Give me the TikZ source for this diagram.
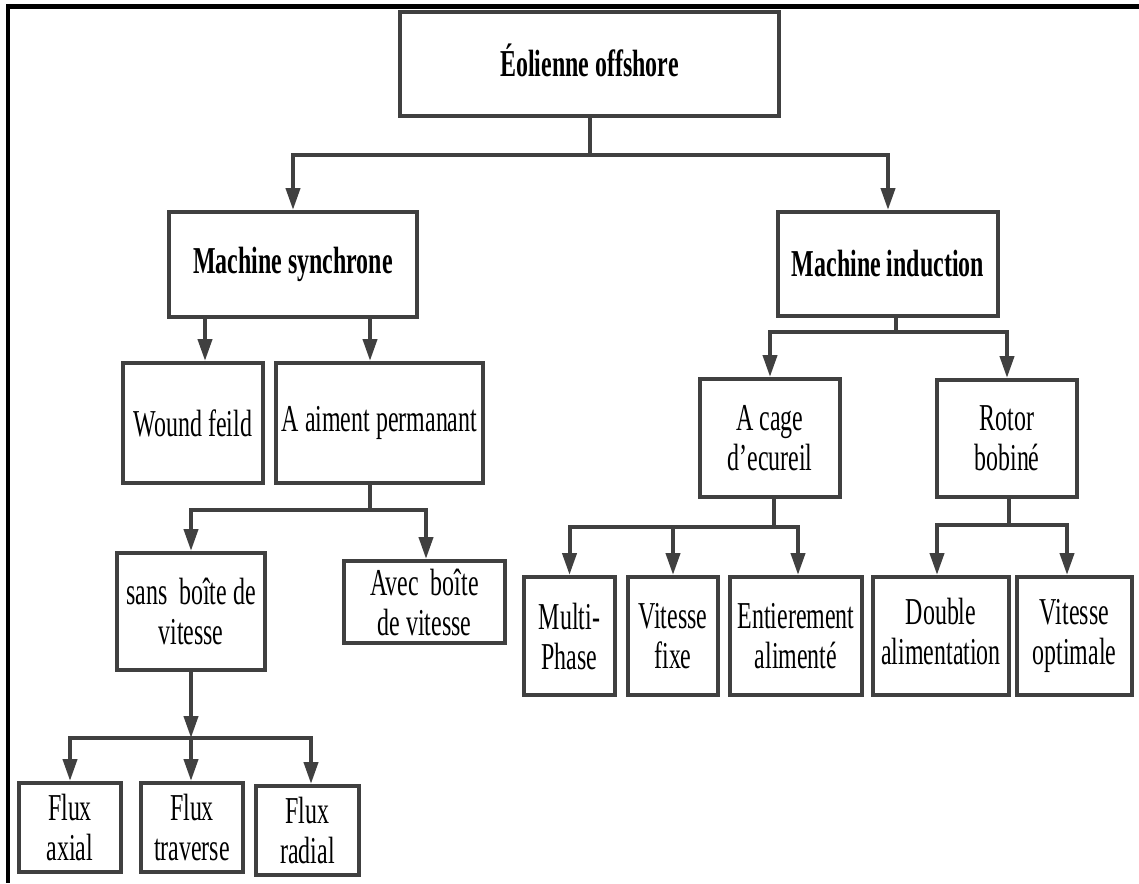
\documentclass[tikz,border=0pt]{standalone}
\usepackage{fontspec}
\setmainfont[FakeStretch=0.63]{Liberation Serif}
\usetikzlibrary{arrows.meta}
\definecolor{edge}{HTML}{404040}
\tikzset{
  box/.style={draw=edge, line width=4pt, fill=white, inner sep=0pt, align=center,
    font=\fontsize{38}{40}\selectfont},
  bbox/.style={box, font=\fontsize{38}{40}\selectfont\bfseries},
  link/.style={draw=edge, line width=4pt},
  arr/.style={link, -{Triangle[length=22pt,width=14pt]}},
}
\begin{document}
\begin{tikzpicture}[x=1pt,y=-1pt]
\useasboundingbox (0,0) rectangle (1139,883);
% page frame (top and left rules)
\draw[black, line width=5pt] (6,6.5) -- (1139,6.5);
\draw[black, line width=4.5pt] (8,4) -- (8,883);

% level 0
\node[bbox, minimum width=379pt, minimum height=104pt] (title) at (589.5,64) {\raisebox{8pt}{Éolienne offshore}};
% level 1
\node[bbox, minimum width=248pt, minimum height=105pt] (msync) at (293,264.5) {\raisebox{3pt}{Machine synchrone}};
\node[bbox, minimum width=220pt, minimum height=104pt] (mind) at (888,264) {Machine induction};
% synchronous branch
\node[box, minimum width=140pt, minimum height=120pt] (wound) at (193,423) {Wound feild};
\node[box, minimum width=207pt, minimum height=120pt] (aiment) at (379.5,423) {A aiment permanant};
\node[box, minimum width=148pt, minimum height=117pt] (sans) at (191,611.5) {sans~~boîte de\\vitesse};
\node[box, minimum width=161pt, minimum height=82pt] (avec) at (424.5,602) {Avec~~boîte\\de vitesse};
\node[box, minimum width=102pt, minimum height=89pt] (faxial) at (70,827.5) {Flux\\axial};
\node[box, minimum width=102pt, minimum height=89pt] (ftrav) at (192,827.5) {Flux\\traverse};
\node[box, minimum width=103pt, minimum height=89pt] (frad) at (307.5,830.5) {Flux\\radial};
% induction branch
\node[box, minimum width=140pt, minimum height=118pt] (cage) at (770,438) {A cage\\d’ecureil};
\node[box, minimum width=140pt, minimum height=117pt] (rotor) at (1007,438.5) {Rotor\\bobiné};
\node[box, minimum width=91pt, minimum height=118pt] (multi) at (569.5,636) {Multi-\\Phase};
\node[box, minimum width=90pt, minimum height=118pt] (vfixe) at (673,636) {Vitesse\\fixe};
\node[box, minimum width=132pt, minimum height=118pt] (entier) at (796,636) {Entierement\\alimenté};
\node[box, minimum width=136pt, minimum height=118pt] (double) at (941,636) {\raisebox{6pt}{\begin{tabular}{@{}c@{}}Double\\alimentation\end{tabular}}};
\node[box, minimum width=115pt, minimum height=118pt] (vopt) at (1074.5,636) {\raisebox{6pt}{\begin{tabular}{@{}c@{}}Vitesse\\optimale\end{tabular}}};

% junction points
\coordinate (j0) at (589.5,155);
\coordinate (j1) at (370,510);
\coordinate (j2) at (191,738);
\coordinate (j3) at (896,332);
\coordinate (j4) at (774,527);
\coordinate (j5) at (1009,525);

% title -> machines
\draw[link] (title.south) -- (j0);
\draw[arr] (j0) -| (msync.north);
\draw[arr] (j0) -| (mind.north);

% synchronous machine -> rotor types
\draw[arr] (msync.south -| 205,0) -- (wound.north -| 205,0);
\draw[arr] (msync.south -| 370,0) -- (aiment.north -| 370,0);

% permanent magnet -> gearbox options
\draw[link] (aiment.south -| j1) -- (j1);
\draw[arr] (j1) -| (sans.north);
\draw[arr] (j1) -| (avec.north -| 426,0);

% direct drive -> flux types
\draw[arr] (sans.south) -- (j2);
\draw[arr] (j2) -| (faxial.north);
\draw[arr] (j2) -- (ftrav.north -| j2);
\draw[arr] (j2) -| (frad.north -| 311,0);

% induction machine -> rotor types
\draw[link] (mind.south -| j3) -- (j3);
\draw[arr] (j3) -| (cage.north);
\draw[arr] (j3) -| (rotor.north);

% squirrel cage -> variants
\draw[link] (cage.south -| j4) -- (j4);
\draw[arr] (j4) -| (multi.north);
\draw[arr] (j4) -| (vfixe.north);
\draw[arr] (j4) -| (entier.north -| 798,0);

% wound rotor -> variants
\draw[link] (rotor.south -| j5) -- (j5);
\draw[arr] (j5) -| (double.north -| 937,0);
\draw[arr] (j5) -| (vopt.north -| 1067,0);
\end{tikzpicture}
\end{document}
